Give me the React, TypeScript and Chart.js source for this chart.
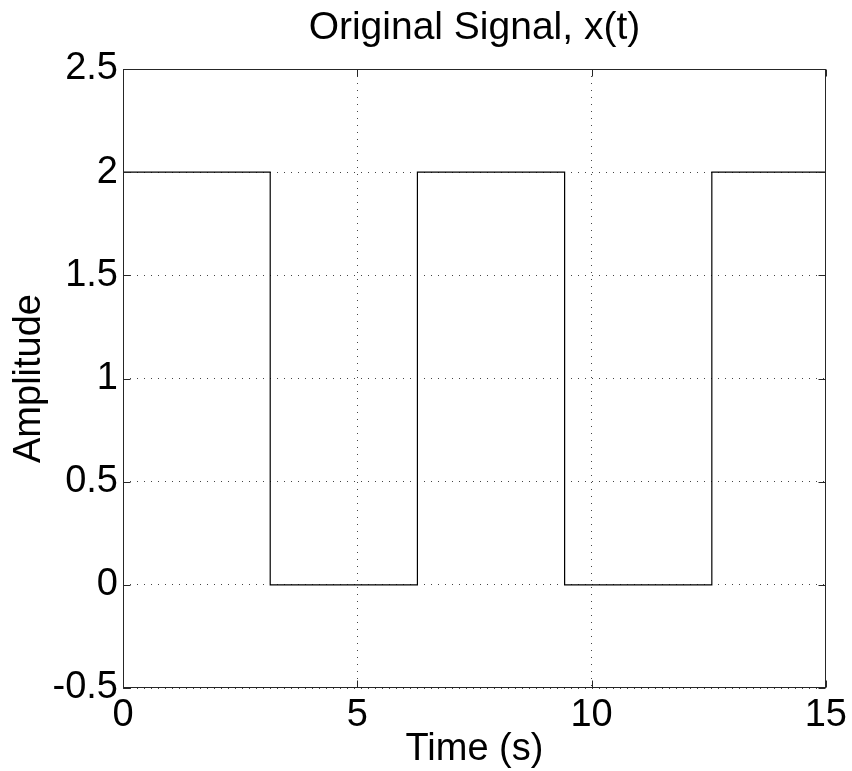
import React, { useEffect, useRef } from "react";
import { Chart, registerables } from "chart.js";

Chart.register(...registerables);

const TITLE = "Original Signal, x(t)";
const X_LABEL = "Time (s)";
const Y_LABEL = "Amplitude";

const timeValues = [0, 3.1416, 3.1416, 6.2832, 6.2832, 9.4248, 9.4248, 12.5664, 12.5664, 15];
const amplitudeValues = [2, 2, 0, 0, 2, 2, 0, 0, 2, 2];

const xTickValues = [0, 5, 10, 15];
const yTickValues = [-0.5, 0, 0.5, 1, 1.5, 2, 2.5];

const FONT_FAMILY = "'Liberation Sans', Arial, Helvetica, sans-serif";
const FONT_SIZE = 38;

const boxAndTicks = {
  id: "boxAndTicks",
  afterDraw(chart: any) {
    const { ctx, chartArea } = chart;
    const l = Math.round(chartArea.left) + 0.5;
    const r = Math.round(chartArea.right) - 0.5;
    const t = Math.round(chartArea.top) + 0.5;
    const b = Math.round(chartArea.bottom) - 0.5;
    const xs = chart.scales.x;
    const ys = chart.scales.y;
    const len = 7;
    ctx.save();
    ctx.strokeStyle = "#262626";
    ctx.lineWidth = 1;
    ctx.setLineDash([]);
    ctx.strokeRect(l, t, r - l, b - t);
    ctx.beginPath();
    xTickValues.forEach((v) => {
      const px = Math.round(xs.getPixelForValue(v)) + 0.5;
      ctx.moveTo(px, b);
      ctx.lineTo(px, b - len);
      ctx.moveTo(px, t);
      ctx.lineTo(px, t + len);
    });
    yTickValues.forEach((v) => {
      const py = Math.round(ys.getPixelForValue(v)) + 0.5;
      ctx.moveTo(l, py);
      ctx.lineTo(l + len, py);
      ctx.moveTo(r, py);
      ctx.lineTo(r - len, py);
    });
    ctx.stroke();
    ctx.restore();
  },
};

export default function App() {
  const canvasRef = useRef<HTMLCanvasElement | null>(null);

  useEffect(() => {
    const canvas = canvasRef.current;
    if (!canvas) return;
    const points = timeValues.map((t, i) => ({ x: t, y: amplitudeValues[i] }));
    const font = { family: FONT_FAMILY, size: FONT_SIZE };
    const chart = new Chart(canvas, {
      type: "scatter",
      data: {
        datasets: [
          {
            data: points,
            showLine: true,
            borderColor: "#000000",
            borderWidth: 1.2,
            pointRadius: 0,
            pointHoverRadius: 0,
            fill: false,
            tension: 0,
          },
        ],
      },
      options: {
        responsive: false,
        animation: false,
        devicePixelRatio: 1,
        layout: { padding: { left: 0, right: 26, top: 0, bottom: 0 } },
        plugins: {
          legend: { display: false },
          tooltip: { enabled: false },
          title: {
            display: true,
            text: TITLE,
            color: "#000000",
            fullSize: false,
            font: { family: FONT_FAMILY, size: 39, weight: "normal" },
            padding: { top: 5, bottom: 17.2 },
          },
        },
        scales: {
          x: {
            type: "linear",
            min: 0,
            max: 15,
            afterBuildTicks: (scale: any) => {
              scale.ticks = xTickValues.map((v) => ({ value: v }));
            },
            afterFit: (scale: any) => {
              scale.height = 83;
            },
            ticks: {
              color: "#000000",
              font,
              padding: 5,
              maxRotation: 0,
              autoSkip: false,
              callback: (v: any) => String(v),
            },
            grid: { color: "#444444", lineWidth: 1, drawTicks: false },
            border: { display: false, dash: [1, 6] },
            title: {
              display: true,
              text: X_LABEL,
              color: "#000000",
              font,
              padding: { top: 0, bottom: -1 },
            },
          },
          y: {
            type: "linear",
            min: -0.5,
            max: 2.5,
            afterBuildTicks: (scale: any) => {
              scale.ticks = yTickValues.map((v) => ({ value: v }));
            },
            afterFit: (scale: any) => {
              scale.width = 123;
            },
            ticks: {
              color: "#000000",
              font,
              padding: 5,
              autoSkip: false,
              callback: (v: any) => String(v),
            },
            grid: { color: "#444444", lineWidth: 1, drawTicks: false },
            border: { display: false, dash: [1, 6] },
            title: {
              display: true,
              text: Y_LABEL,
              color: "#000000",
              font,
              padding: { top: 7, bottom: 0 },
            },
          },
        },
      },
      plugins: [boxAndTicks],
    });
    return () => chart.destroy();
  }, []);

  return (
    <canvas
      ref={canvasRef}
      width={852}
      height={771}
      style={{ position: "absolute", left: 0, top: 0, width: 852, height: 771, display: "block", background: "#ffffff" }}
    />
  );
}
